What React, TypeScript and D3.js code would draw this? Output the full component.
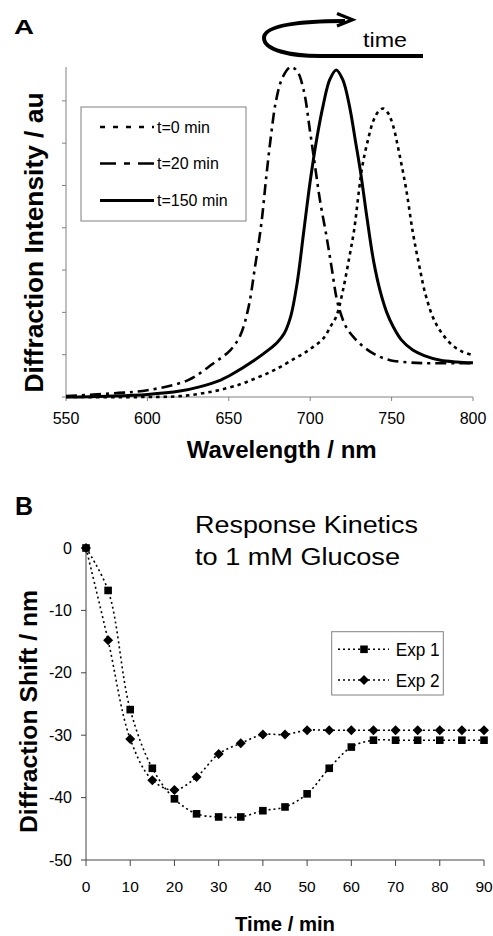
import React from "react";
import * as d3 from "d3";

// ---------- Panel A data ----------
const t0Wavelength = [550,600,620,640,657,667,675,682,690,696,702,708,713,716,720,724,727,730,732,735,739,742,745,748,751,755,759,763,767,771,777,786,793,800];
const t0Intensity = [0,0,0.02,0.13,0.30,0.45,0.58,0.72,0.9,1.03,1.19,1.38,1.7,1.9,2.5,3.3,3.95,4.9,5.45,6.0,6.55,6.75,6.82,6.7,6.4,5.7,4.9,3.9,3.1,2.4,1.75,1.27,1.08,0.99];

const t20Wavelength = [550,580,600,625,640,651,657,662,666,670,673,676,679,683,688,692,696,700,703,706,710,713,717,722,727,733,740,749,760,770,800];
const t20Intensity = [0.02,0.09,0.16,0.40,0.78,1.11,1.45,2.1,3.05,4.1,5.2,6.2,7.0,7.55,7.8,7.7,7.25,6.25,5.45,4.65,3.8,3.1,2.2,1.66,1.4,1.18,1.0,0.87,0.82,0.80,0.80];

const t150Wavelength = [550,575,600,620,632,645,653,665,675,680,684,688,692,696,700,704,708,712,716,720,724,728,731,735,739,743,747,751,756,763,770,780,790,800];
const t150Intensity = [0,0.02,0.06,0.14,0.24,0.40,0.56,0.85,1.13,1.3,1.5,1.9,2.7,3.9,5.1,6.1,6.9,7.5,7.73,7.5,6.9,6.0,5.3,4.2,3.2,2.5,2.0,1.66,1.35,1.11,0.98,0.87,0.83,0.81];

const wavelengthTicks = [550, 600, 650, 700, 750, 800];
const intensityTicks = [0, 1, 2, 3, 4, 5, 6, 7];
const legendA = ["t=0 min", "t=20 min", "t=150 min"];

// ---------- Panel B data ----------
const timeMin = [0,5,10,15,20,25,30,35,40,45,50,55,60,65,70,75,80,85,90];
const exp1 = [0,-6.8,-25.9,-35.3,-40.2,-42.6,-43.1,-43.1,-42.1,-41.5,-39.4,-35.3,-31.9,-30.8,-30.8,-30.8,-30.8,-30.8,-30.8];
const exp2 = [0,-14.8,-30.6,-37.2,-38.8,-36.7,-33.0,-31.3,-29.9,-29.9,-29.2,-29.2,-29.2,-29.2,-29.2,-29.2,-29.2,-29.2,-29.2];
const timeTicks = [0,10,20,30,40,50,60,70,80,90];
const shiftTicks = [0,-10,-20,-30,-40,-50];
const legendB = ["Exp 1", "Exp 2"];

const FONT = "'Liberation Sans', Arial, Helvetica, sans-serif";

export default function App() {
  // Panel A scales
  const xA = d3.scaleLinear().domain([550, 800]).range([66, 473]);
  const yA = d3.scaleLinear().domain([0, 7.8]).range([397, 67]);
  const lineA = d3.line<[number, number]>()
    .x(d => xA(d[0])).y(d => yA(d[1]))
    .curve(d3.curveCatmullRom.alpha(0.5));
  const zip = (a: number[], b: number[]) => a.map((v, i) => [v, b[i]] as [number, number]);

  const seriesA = [
    { data: zip(t0Wavelength, t0Intensity), dash: "3.5,4", w: 2.6 },
    { data: zip(t20Wavelength, t20Intensity), dash: "11,5,3,5", w: 2.6 },
    { data: zip(t150Wavelength, t150Intensity), dash: "", w: 3 },
  ];

  // Panel B scales
  const xB = d3.scaleLinear().domain([0, 90]).range([86, 484]);
  const yB = d3.scaleLinear().domain([-50, 0]).range([860, 548]);
  const lineB = d3.line<[number, number]>()
    .x(d => xB(d[0])).y(d => yB(d[1]))
    .curve(d3.curveCatmullRom.alpha(0.5));
  const exp1Pts = zip(timeMin, exp1);
  const exp2Pts = zip(timeMin, exp2);

  const square = (cx: number, cy: number, k: string) => (
    <rect key={k} x={cx - 3.8} y={cy - 3.8} width={7.6} height={7.6} fill="#000" />
  );
  const diamond = (cx: number, cy: number, k: string) => (
    <path key={k} d={`M${cx},${cy - 5}L${cx + 5},${cy}L${cx},${cy + 5}L${cx - 5},${cy}Z`} fill="#000" />
  );

  return (
    <svg width={493} height={936} style={{ position: "absolute", left: 0, top: 0, background: "#fff" }} fontFamily={FONT}>
      <rect x={0} y={0} width={493} height={936} fill="#fff" />
      {/* ===== Panel A ===== */}
      <text x={14} y={34} fontSize={20} fontWeight="bold" textLength={20} lengthAdjust="spacingAndGlyphs">A</text>

      {/* time arrow */}
      <path d="M345,21 C300,21 264,25 264,38 C264,50 290,56 320,56 L423,56" fill="none" stroke="#000" strokeWidth={4} />
      <polyline points="337,13.5 352.5,19.8 337,26" fill="none" stroke="#000" strokeWidth={3.2} />
      <text x={363} y={47} fontSize={21} textLength={44} lengthAdjust="spacingAndGlyphs">time</text>

      {/* axes A */}
      <line x1={66} x2={66} y1={67} y2={397} stroke="#808080" strokeWidth={1} />
      <line x1={66} x2={473} y1={397} y2={397} stroke="#808080" strokeWidth={1} />
      {intensityTicks.map(t => (
        <line key={"ya" + t} x1={62} x2={66} y1={yA(t)} y2={yA(t)} stroke="#808080" />
      ))}
      {wavelengthTicks.map(t => (
        <g key={"xa" + t}>
          <line x1={xA(t)} x2={xA(t)} y1={397} y2={401} stroke="#808080" />
          <text x={xA(t)} y={424} fontSize={16} textAnchor="middle">{t}</text>
        </g>
      ))}
      <text transform="translate(42.5,242.5) rotate(-90)" fontSize={25} fontWeight="bold" textAnchor="middle" textLength={300} lengthAdjust="spacingAndGlyphs">Diffraction Intensity / au</text>
      <text x={281.7} y={458} fontSize={24} fontWeight="bold" textAnchor="middle" textLength={190} lengthAdjust="spacingAndGlyphs">Wavelength / nm</text>

      {/* curves A */}
      {seriesA.map((s, i) => (
        <path key={"ca" + i} d={lineA(s.data) || ""} fill="none" stroke="#000" strokeWidth={s.w} strokeDasharray={s.dash || undefined} />
      ))}

      {/* legend A */}
      <rect x={81} y={107} width={165} height={114} fill="#fff" stroke="#808080" />
      {legendA.map((lab, i) => {
        const yy = [127, 163.5, 200.5][i];
        const s = seriesA[i];
        return (
          <g key={"la" + i}>
            <line x1={100} x2={154} y1={yy} y2={yy} stroke="#000" strokeWidth={s.w} strokeDasharray={i === 0 ? "5,8" : i === 1 ? "16,8,6,8" : undefined} />
            <text x={157} y={yy + 5.5} fontSize={16}>{lab}</text>
          </g>
        );
      })}

      {/* ===== Panel B ===== */}
      <text x={15} y={515} fontSize={25} fontWeight="bold" textLength={18} lengthAdjust="spacingAndGlyphs">B</text>
      <text x={195} y={532.7} fontSize={23} textLength={223} lengthAdjust="spacingAndGlyphs">Response Kinetics</text>
      <text x={195} y={565} fontSize={23} textLength={205} lengthAdjust="spacingAndGlyphs">to 1 mM Glucose</text>

      <line x1={86} x2={86} y1={548} y2={860} stroke="#444" />
      <line x1={86} x2={484} y1={860} y2={860} stroke="#444" />
      {shiftTicks.map(t => (
        <g key={"yb" + t}>
          <line x1={81} x2={86} y1={yB(t)} y2={yB(t)} stroke="#444" />
          <text x={72} y={yB(t) + 5.5} fontSize={16} textAnchor="end">{t}</text>
        </g>
      ))}
      {timeTicks.map(t => (
        <g key={"xb" + t}>
          <line x1={xB(t)} x2={xB(t)} y1={860} y2={866} stroke="#444" />
          <text x={xB(t)} y={891.7} fontSize={15.5} textAnchor="middle">{t}</text>
        </g>
      ))}
      <text transform="translate(36.7,711.5) rotate(-90)" fontSize={24} fontWeight="bold" textAnchor="middle" textLength={243} lengthAdjust="spacingAndGlyphs">Diffraction Shift / nm</text>
      <text x={285} y={931} fontSize={20} fontWeight="bold" textAnchor="middle" textLength={100} lengthAdjust="spacingAndGlyphs">Time / min</text>

      <path d={lineB(exp1Pts) || ""} fill="none" stroke="#000" strokeWidth={1.6} strokeDasharray="2,3" />
      <path d={lineB(exp2Pts) || ""} fill="none" stroke="#000" strokeWidth={1.6} strokeDasharray="2,3" />
      {exp1Pts.map((d, i) => square(xB(d[0]), yB(d[1]), "s" + i))}
      {exp2Pts.map((d, i) => diamond(xB(d[0]), yB(d[1]), "d" + i))}

      {/* legend B */}
      <rect x={331.7} y={631.7} width={111.6} height={63.3} fill="#fff" stroke="#808080" />
      {legendB.map((lab, i) => {
        const yy = [649.3, 680][i];
        return (
          <g key={"lb" + i}>
            <line x1={338} x2={389} y1={yy} y2={yy} stroke="#000" strokeWidth={1.6} strokeDasharray="2,3" />
            {i === 0 ? square(364, yy, "ls") : diamond(364, yy, "ld")}
            <text x={395.7} y={yy + 6.5} fontSize={19} textLength={44} lengthAdjust="spacingAndGlyphs">{lab}</text>
          </g>
        );
      })}
    </svg>
  );
}
